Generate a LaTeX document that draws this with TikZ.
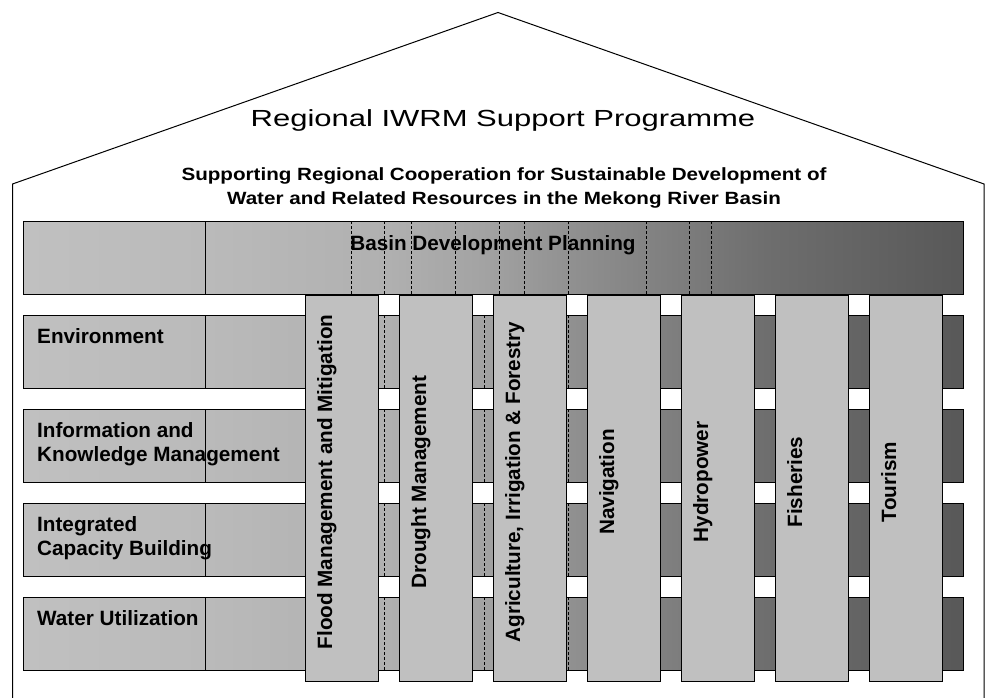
\documentclass[tikz,border=0pt]{standalone}
\usepackage{fontspec}
\setmainfont{Liberation Sans}
\newfontfamily\roofwide[FakeStretch=1.33]{Liberation Sans}
\newfontfamily\roofnarrow[FakeStretch=1.165]{Liberation Sans}
\usetikzlibrary{positioning}

\definecolor{pillargray}{HTML}{C0C0C0}
\definecolor{band0}{HTML}{C0C0C0}
\definecolor{band1}{HTML}{BABABA}
\definecolor{band2}{HTML}{B0B0B0}
\definecolor{band3}{HTML}{A3A3A3}
\definecolor{band4}{HTML}{8F8F8F}
\definecolor{band5}{HTML}{6E6E6E}
\definecolor{band6}{HTML}{585858}

% light on the left, darkening to the right (25bp..75bp covers the path)
\pgfdeclarehorizontalshading{bandfade}{100bp}{color(0bp)=(band0); color(25bp)=(band0);
  color(34.7bp)=(band1); color(44.4bp)=(band2); color(49.4bp)=(band3);
  color(54.5bp)=(band4); color(64.5bp)=(band5); color(75bp)=(band6); color(100bp)=(band6)}

\begin{document}
\begin{tikzpicture}[x=1pt, y=-1pt, font=\bfseries\fontsize{20.7}{24}\selectfont,
  band/.style={draw, line width=0.9pt, shading=bandfade, minimum width=940.5pt, minimum height=73pt, inner sep=0pt, outer sep=0pt},
  pillar/.style={draw, line width=0.9pt, fill=pillargray, minimum width=73.5pt, minimum height=386pt, inner sep=0pt, outer sep=0pt},
  lbl/.style={inner sep=0pt, anchor=north west, align=left},
  vlbl/.style={inner sep=0pt, rotate=90, anchor=north},
  seam/.style={line width=0.4pt, densely dashed},
  cut/.style={line width=0.6pt}]
\useasboundingbox (0,0) rectangle (986,698);

% roof and walls
\draw[line width=1pt] (12.5,698) -- (12.5,184) -- (498,12.5) -- (984,184) -- (984,698);

\node[font=\roofwide\mdseries\fontsize{23.3}{28}\selectfont, anchor=base] (title) at (503,126.7) {Regional IWRM Support Programme};
\node[font=\roofnarrow\bfseries\fontsize{17.7}{24.3}\selectfont, align=center, anchor=north, inner sep=0pt] (aim) at (504,167) {Supporting Regional Cooperation for Sustainable Development of\\Water and Related Resources in the Mekong River Basin};

% planning band and the four themes
\node[band, anchor=north west] (bdp) at (23,221) {};
\node[band, below=21pt of bdp] (env) {};
\node[band, below=21pt of env] (ikm) {};
\node[band, below=21pt of ikm] (icb) {};
\node[band, below=21pt of icb] (wu) {};

\node[anchor=base] (bdp-lbl) at (493,250) {Basin Development Planning};

\draw[cut] ([xshift=182pt]bdp.north west) -- ([xshift=182pt]bdp.south west);
\draw[cut] ([xshift=182pt]env.north west) -- ([xshift=182pt]env.south west);
\draw[cut] ([xshift=182pt]ikm.north west) -- ([xshift=182pt]ikm.south west);
\draw[cut] ([xshift=182pt]icb.north west) -- ([xshift=182pt]icb.south west);
\draw[cut] ([xshift=182pt]wu.north west) -- ([xshift=182pt]wu.south west);

% thin seams of the gradient
\draw[seam] ([xshift=328pt]bdp.north west) -- ([xshift=328pt]bdp.south west)
  ([xshift=361pt]bdp.north west) -- ([xshift=361pt]bdp.south west)
  ([xshift=388pt]bdp.north west) -- ([xshift=388pt]bdp.south west)
  ([xshift=432pt]bdp.north west) -- ([xshift=432pt]bdp.south west)
  ([xshift=476pt]bdp.north west) -- ([xshift=476pt]bdp.south west)
  ([xshift=501pt]bdp.north west) -- ([xshift=501pt]bdp.south west)
  ([xshift=545pt]bdp.north west) -- ([xshift=545pt]bdp.south west)
  ([xshift=623pt]bdp.north west) -- ([xshift=623pt]bdp.south west)
  ([xshift=666pt]bdp.north west) -- ([xshift=666pt]bdp.south west)
  ([xshift=688pt]bdp.north west) -- ([xshift=688pt]bdp.south west);
\draw[seam] ([xshift=361pt]env.north west) -- ([xshift=361pt]env.south west)
  ([xshift=461pt]env.north west) -- ([xshift=461pt]env.south west)
  ([xshift=545pt]env.north west) -- ([xshift=545pt]env.south west);
\draw[seam] ([xshift=361pt]ikm.north west) -- ([xshift=361pt]ikm.south west)
  ([xshift=461pt]ikm.north west) -- ([xshift=461pt]ikm.south west)
  ([xshift=545pt]ikm.north west) -- ([xshift=545pt]ikm.south west);
\draw[seam] ([xshift=361pt]icb.north west) -- ([xshift=361pt]icb.south west)
  ([xshift=461pt]icb.north west) -- ([xshift=461pt]icb.south west)
  ([xshift=545pt]icb.north west) -- ([xshift=545pt]icb.south west);
\draw[seam] ([xshift=361pt]wu.north west) -- ([xshift=361pt]wu.south west)
  ([xshift=461pt]wu.north west) -- ([xshift=461pt]wu.south west)
  ([xshift=545pt]wu.north west) -- ([xshift=545pt]wu.south west);

\node[lbl] (env-lbl) at ([xshift=14pt,yshift=-13pt]env.north west) {Environment};
\node[lbl] (ikm-lbl) at ([xshift=14pt,yshift=-13pt]ikm.north west) {Information and\\Knowledge Management};
\node[lbl] (icb-lbl) at ([xshift=14pt,yshift=-13pt]icb.north west) {Integrated\\Capacity Building};
\node[lbl] (wu-lbl) at ([xshift=14pt,yshift=-13pt]wu.north west) {Water Utilization};

% sector pillars
\node[pillar, anchor=north west] (flood) at (305,295) {};
\node[pillar, right=20.5pt of flood] (drought) {};
\node[pillar, right=20.5pt of drought] (agri) {};
\node[pillar, right=20.5pt of agri] (navi) {};
\node[pillar, right=20.5pt of navi] (hydro) {};
\node[pillar, right=20.5pt of hydro] (fish) {};
\node[pillar, right=20.5pt of fish] (tour) {};

\node[vlbl] (flood-lbl) at ([xshift=12pt,yshift=6pt]flood.west) {Flood Management and Mitigation};
\node[vlbl] (drought-lbl) at ([xshift=12pt,yshift=6pt]drought.west) {Drought Management};
\node[vlbl] (agri-lbl) at ([xshift=12pt,yshift=6pt]agri.west) {Agriculture, Irrigation \& Forestry};
\node[vlbl] (navi-lbl) at ([xshift=12pt,yshift=6pt]navi.west) {Navigation};
\node[vlbl] (hydro-lbl) at ([xshift=12pt,yshift=6pt]hydro.west) {Hydropower};
\node[vlbl] (fish-lbl) at ([xshift=12pt,yshift=6pt]fish.west) {Fisheries};
\node[vlbl] (tour-lbl) at ([xshift=12pt,yshift=6pt]tour.west) {Tourism};
\end{tikzpicture}
\end{document}
